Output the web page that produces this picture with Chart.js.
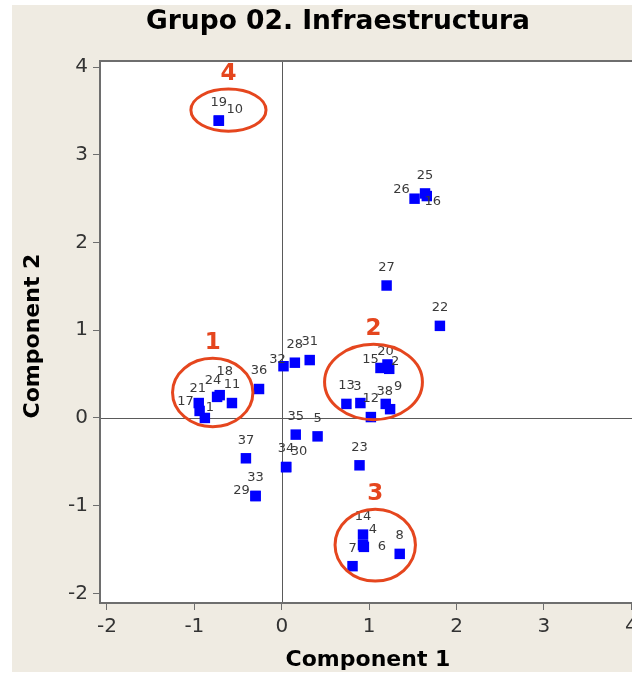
<!DOCTYPE html>
<html>
<head>
<meta charset="utf-8">
<title>Grupo 02. Infraestructura</title>
<script src="https://cdn.jsdelivr.net/npm/chart.js@4.4.0/dist/chart.umd.min.js"></script>
<style>
  html, body { margin: 0; padding: 0; overflow: hidden; background: #fff; }
  canvas { display: block; }
</style>
</head>
<body>
<canvas id="pcaPlot" width="660" height="673"></canvas>
<script>
/* ---------- scores on the first two components ---------- */
const pointIds = ['1','2','3','4','5','6','7','8','9','10',
                  '11','12','13','14','15','16','17','18','19','20',
                  '21','22','23','24','25','26','27','28','29','30',
                  '31','32','33','34','35','36','37','38'];
const comp1 = [-0.88, 1.23, 0.90, 0.93, 0.41, 0.94, 0.81, 1.35, 1.24, -0.72,
               -0.57, 1.02, 0.74, 0.93, 1.13, 1.66, -0.94, -0.71, -0.72, 1.21,
               -0.95, 1.81, 0.89, -0.74, 1.64, 1.52, 1.20, 0.15, -0.30, 0.05,
               0.32, 0.02, -0.30, 0.05, 0.16, -0.26, -0.41, 1.19];
const comp2 = [0.00, 0.56, 0.17, -1.45, -0.21, -1.47, -1.69, -1.55, 0.10, 3.39,
               0.17, 0.01, 0.16, -1.33, 0.57, 2.53, 0.08, 0.26, 3.39, 0.61,
               0.17, 1.05, -0.54, 0.24, 2.56, 2.50, 1.51, 0.63, -0.89, -0.56,
               0.66, 0.59, -0.89, -0.56, -0.19, 0.33, -0.46, 0.16];

/* ---------- groups circled on the plot ---------- */
const groupNames = ['1', '2', '3', '4'];
const groupCx    = [-0.79, 1.05, 1.07, -0.61];
const groupCy    = [ 0.29, 0.41, -1.45, 3.51];
const groupRx    = [ 0.46, 0.56, 0.46, 0.43];
const groupRy    = [ 0.39, 0.43, 0.41, 0.24];

/* ---------- axes ---------- */
const xTicks = [-2, -1, 0, 1, 2, 3, 4];
const yTicks = [-2, -1, 0, 1, 2, 3, 4];

/* label nudges (px) so overlapping ids stay readable */
const nudge = {
  '10':[16,7], '16':[6,24], '26':[-13,9], '15':[-10,10], '20':[-2,5], '2':[6,11],
  '38':[-1,6], '9':[8,-5], '21':[-1,4], '17':[-14,9], '1':[5,8], '24':[-4,2],
  '18':[5,-6], '32':[-6,11], '30':[13,3], '29':[-14,13], '4':[10,3], '6':[18,18],
  '3':[-3,2]
};

const BEIGE = '#efebe2', BLUE = '#0000ff', RED = '#e5461e', FRAME = '#6e6e6e';
const FONT = '"DejaVu Sans", Verdana, sans-serif';

const points = pointIds.map((id, i) => ({ x: comp1[i], y: comp2[i], id }));

/* ---------- plugins ---------- */
const backdrop = {
  id: 'backdrop',
  beforeDraw(chart) {
    const { ctx, chartArea: a, width, height } = chart;
    ctx.save();
    ctx.fillStyle = '#fff';
    ctx.fillRect(0, 0, width, height);
    ctx.fillStyle = BEIGE;
    ctx.fillRect(12, 5, width - 12, 667);
    ctx.fillStyle = '#fff';
    ctx.fillRect(a.left, a.top, a.right - a.left, a.bottom - a.top);
    ctx.restore();
  },
  beforeDatasetsDraw(chart) {
    // reference lines through the origin
    const { ctx, chartArea: a, scales: { x, y } } = chart;
    const x0 = Math.round(x.getPixelForValue(0)) + 0.5;
    const y0 = Math.round(y.getPixelForValue(0)) + 0.5;
    ctx.save();
    ctx.strokeStyle = '#5a5a5a';
    ctx.lineWidth = 1;
    ctx.beginPath();
    ctx.moveTo(x0, a.top); ctx.lineTo(x0, a.bottom);
    ctx.moveTo(a.left, y0); ctx.lineTo(a.right, y0);
    ctx.stroke();
    ctx.restore();
  }
};

const annotate = {
  id: 'annotate',
  afterDatasetsDraw(chart) {
    const { ctx, scales: { x, y } } = chart;
    ctx.save();

    // point ids
    ctx.fillStyle = '#3a3a3a';
    ctx.font = '13px ' + FONT;
    ctx.textAlign = 'center';
    ctx.textBaseline = 'middle';
    points.forEach(p => {
      const [dx, dy] = nudge[p.id] || [0, 0];
      ctx.fillText(p.id, x.getPixelForValue(p.x) + dx, y.getPixelForValue(p.y) - 18 + dy);
    });

    // circled groups
    ctx.strokeStyle = RED;
    ctx.fillStyle = RED;
    ctx.lineWidth = 3;
    ctx.font = 'bold 23px ' + FONT;
    groupNames.forEach((g, i) => {
      const cx = x.getPixelForValue(groupCx[i]);
      const cy = y.getPixelForValue(groupCy[i]);
      const rx = x.getPixelForValue(groupCx[i] + groupRx[i]) - cx;
      const ry = cy - y.getPixelForValue(groupCy[i] + groupRy[i]);
      ctx.beginPath();
      ctx.ellipse(cx, cy, rx, ry, 0, 0, Math.PI * 2);
      ctx.stroke();
      ctx.fillText(g, cx, cy - ry - 15);
    });
    ctx.restore();
  },
  afterDraw(chart) {
    const { ctx, chartArea: a } = chart;
    ctx.save();
    ctx.strokeStyle = FRAME;
    ctx.lineWidth = 2;
    ctx.strokeRect(a.left, a.top, a.right - a.left, a.bottom - a.top);

    ctx.fillStyle = '#000';
    ctx.textAlign = 'center';
    ctx.textBaseline = 'middle';
    ctx.font = 'bold 26.5px ' + FONT;
    ctx.fillText('Grupo 02. Infraestructura', 338, 22);
    ctx.font = 'bold 22px ' + FONT;
    ctx.fillText('Component 1', 368, 660);
    ctx.translate(33, 336);
    ctx.rotate(-Math.PI / 2);
    ctx.fillText('Component 2', 0, 0);
    ctx.restore();
  }
};

/* ---------- chart ---------- */
const tickFont = { family: FONT, size: 20 };
const axisGrid = { display: true, drawOnChartArea: false, drawTicks: true, tickLength: 7, color: FRAME, lineWidth: 1 };

new Chart(document.getElementById('pcaPlot'), {
  type: 'scatter',
  data: {
    datasets: [{
      data: points,
      pointStyle: 'rect',
      pointRadius: 7.4,
      pointHoverRadius: 7.4,
      backgroundColor: BLUE,
      borderColor: BLUE,
      borderWidth: 0
    }]
  },
  options: {
    responsive: false,
    animation: false,
    events: [],
    layout: { padding: { top: 61, right: 20, bottom: 0, left: 0 } },
    plugins: { legend: { display: false }, tooltip: { enabled: false } },
    scales: {
      x: {
        type: 'linear', min: -2.08, max: 4.1,
        afterBuildTicks: s => { s.ticks = xTicks.map(v => ({ value: v })); },
        afterFit: s => { s.height = 70; },
        grid: axisGrid,
        border: { display: false },
        ticks: { font: tickFont, color: '#333', padding: 5, maxRotation: 0 }
      },
      y: {
        type: 'linear', min: -2.11, max: 4.07,
        afterBuildTicks: s => { s.ticks = yTicks.map(v => ({ value: v })); },
        afterFit: s => { s.width = 100; },
        grid: axisGrid,
        border: { display: false },
        ticks: { font: tickFont, color: '#333', padding: 5 }
      }
    }
  },
  plugins: [backdrop, annotate]
});
</script>
</body>
</html>
